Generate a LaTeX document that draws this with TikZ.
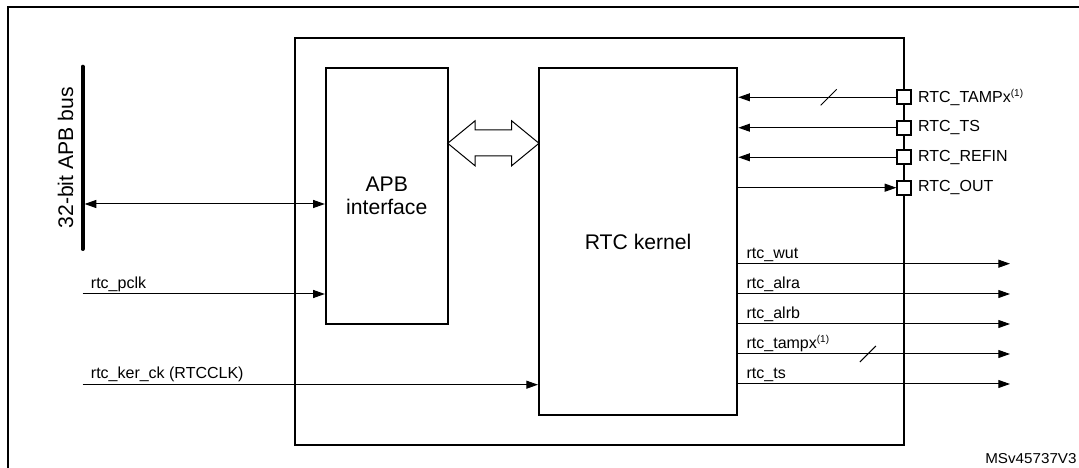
\documentclass[tikz,border=0pt]{standalone}
\usepackage{fontspec}
\setmainfont{Liberation Sans}
\usetikzlibrary{arrows.meta,decorations.markings}

\begin{document}
\begin{tikzpicture}[x=0.6pt,y=-0.6pt,
  font=\fontsize{9.6}{11.5}\selectfont,
  >={Triangle[length=7pt,width=4.8pt]},
  block/.style={draw, line width=1.2pt, inner sep=0, align=center, font=\fontsize{12.7}{14.1}\selectfont},
  pinbox/.style={draw, fill=white, line width=1.1pt, minimum size=8.4pt, inner sep=0, label distance=1.3pt},
  sig/.style={line width=0.6pt},
  siglbl/.style={anchor=south west, inner sep=1.2pt, xshift=3.5pt},
  busmark/.style={decoration={markings, mark=at position #1 with {\draw[-,line width=0.6pt] (-4.8pt,-4.8pt) -- (4.8pt,4.8pt);}}, postaction=decorate}]
\useasboundingbox (0,0) rectangle (1079,468);

% outer frame, cut at the right and bottom
\draw[line width=1.2pt] (7.5,7.3) rectangle (1120,500);

\node[block, minimum width=365.3pt, minimum height=244.2pt] (rtc) at (599.9,241.2) {};
\node[block, minimum width=73.1pt, minimum height=153.6pt] (apb) at (386.75,196) {APB\\interface};
\node[block, minimum width=119pt, minimum height=208.2pt] (kernel) at (638.15,241.5) {RTC kernel};

\node[pinbox, label={right:RTC\_TAMPx\textsuperscript{\fontsize{6}{6}\selectfont(1)}}] (tamp) at (904.3,97.3) {};
\node[pinbox, label=right:RTC\_TS] (ts) at (904.3,127.7) {};
\node[pinbox, label=right:RTC\_REFIN] (refin) at (904.3,157.3) {};
\node[pinbox, label=right:RTC\_OUT] (out) at (904.3,187.7) {};

% hollow two-way arrow between the blocks
\draw[line width=0.6pt, line join=miter] (447.7,143.3) -- (475.2,120.7) -- (475.2,130) -- (511.5,130)
  -- (511.5,120.7) -- (539,143.3) -- (511.5,165.9) -- (511.5,156) -- (475.2,156) -- (475.2,165.9) -- cycle;

\coordinate (bustop) at (82.6,66.7);
\coordinate (busbot) at (82.6,249);
\coordinate (busport) at (82.6,204);
\coordinate (pclk) at (82.6,294);
\coordinate (kerck) at (82.6,384.7);

\coordinate (wut) at (1010,263.7);
\coordinate (alra) at (1010,294);
\coordinate (alrb) at (1010,324);
\coordinate (tampx) at (1010,354);
\coordinate (tsout) at (1010,384);

\path[draw,sig,<->,shorten <=1.2pt] (busport) -- (apb.west |- busport);
\path[draw,line width=2.4pt,line cap=round] (bustop) -- node[midway, rotate=90, anchor=south, inner sep=4.4pt, font=\fontsize{12.7}{14}\selectfont] {32-bit APB bus} (busbot);

\path[draw,sig,->] (pclk) -- node[siglbl, pos=0] {rtc\_pclk} (apb.west |- pclk);
\path[draw,sig,->] (kerck) -- node[siglbl, pos=0] {rtc\_ker\_ck (RTCCLK)} (kernel.west |- kerck);

\path[draw,sig,<-,busmark=0.572] (kernel.east |- tamp) -- (tamp.west);
\path[draw,sig,<-] (kernel.east |- ts) -- (ts.west);
\path[draw,sig,<-] (kernel.east |- refin) -- (refin.west);
\path[draw,sig,->] (kernel.east |- out) -- (out.west);

\path[draw,sig,->] (kernel.east |- wut) -- node[siglbl, pos=0] {rtc\_wut} (wut);
\path[draw,sig,->] (kernel.east |- alra) -- node[siglbl, pos=0] {rtc\_alra} (alra);
\path[draw,sig,->] (kernel.east |- alrb) -- node[siglbl, pos=0] {rtc\_alrb} (alrb);
\path[draw,sig,->,busmark=0.477] (kernel.east |- tampx) -- node[siglbl, pos=0] {rtc\_tampx\textsuperscript{\fontsize{6}{6}\selectfont(1)}} (tampx);
\path[draw,sig,->] (kernel.east |- tsout) -- node[siglbl, pos=0] {rtc\_ts} (tsout);

\node[anchor=base west, inner sep=0, font=\fontsize{8.6}{10}\selectfont] (figid) at (985,464) {\scalebox{1.06}[1]{MSv45737V3}};
\end{tikzpicture}
\end{document}
